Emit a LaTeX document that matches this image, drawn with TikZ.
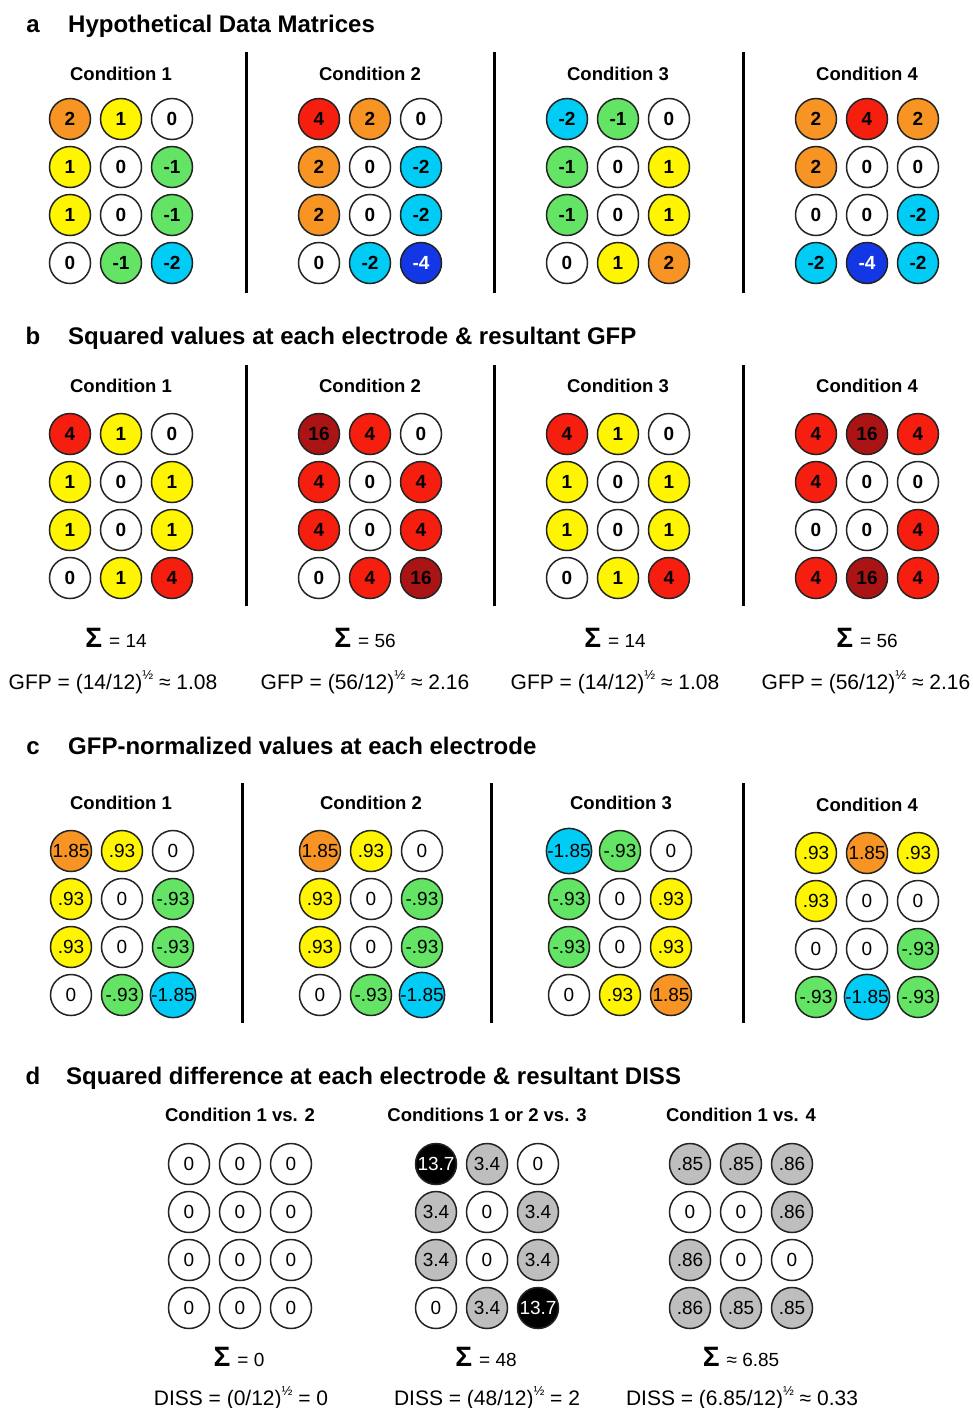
\documentclass[tikz,border=0pt]{standalone}
\usepackage{fontspec}
\setmainfont{Liberation Sans}
\definecolor{cOrC}{RGB}{247,148,36}
\definecolor{cYeC}{RGB}{255,245,0}
\definecolor{cGrC}{RGB}{100,228,100}
\definecolor{cCyC}{RGB}{0,204,245}
\definecolor{cBlC}{RGB}{20,55,230}
\definecolor{cRdC}{RGB}{245,30,15}
\definecolor{cDrC}{RGB}{170,20,20}
\definecolor{cGyC}{RGB}{190,190,190}
\definecolor{lineC}{RGB}{35,35,35}
\tikzset{
  cell/.style={circle, draw=lineC, line width=1.5pt, minimum size=41pt, inner sep=0pt, fill=white,
    font=\fontsize{19}{19}\selectfont\bfseries},
  cellr/.style={cell, font=\fontsize{19}{19}\selectfont},
  wh/.style={fill=white},
  cOr/.style={fill=cOrC},
  cYe/.style={fill=cYeC},
  cGr/.style={fill=cGrC},
  cCy/.style={fill=cCyC},
  cBl/.style={fill=cBlC, text=white},
  cRd/.style={fill=cRdC},
  cDr/.style={fill=cDrC},
  cGy/.style={fill=cGyC},
  cBk/.style={fill=black, text=white},
  sepline/.style={line width=3pt, draw=black},
  ttl/.style={anchor=base west, inner sep=0pt, font=\fontsize{24}{24}\selectfont\bfseries},
  letr/.style={anchor=base, inner sep=0pt, font=\fontsize{24}{24}\selectfont\bfseries},
  lbl/.style={anchor=base, inner sep=0pt, font=\fontsize{18.5}{18.5}\selectfont\bfseries},
  sig/.style={anchor=base, inner sep=0pt},
  eqn/.style={anchor=base, inner sep=0pt, font=\fontsize{21}{21}\selectfont},
}
\newcommand\hf{\raisebox{0.45em}{\fontsize{13}{13}\selectfont ½}}
\newcommand\sumtxt[2]{{\fontsize{28}{28}\selectfont\bfseries Σ}\hspace{7pt}{\fontsize{19}{19}\selectfont #1 #2}}
\newcommand\cgrid[5]{%
  \foreach \gS/\gT [count=\gI from 0] in {#5} {
    \pgfmathtruncatemacro\gR{floor(\gI/3)}
    \pgfmathtruncatemacro\gC{mod(\gI,3)}
    \node[#4,\gS] (#1-\gR-\gC) at ({#2+51*\gC},{#3+48*\gR}) {\gT};
  }}
\begin{document}
\begin{tikzpicture}[x=1pt,y=-1pt]
\useasboundingbox (0,0) rectangle (973,1408);

% ---------- a ----------
\node[letr] (la) at (33,32) {a};
\node[ttl] (ta) at (68,32) {Hypothetical Data Matrices};
\node[lbl] (a1l) at (121,80) {Condition 1};
\node[lbl] (a2l) at (370,80) {Condition 2};
\node[lbl] (a3l) at (618,80) {Condition 3};
\node[lbl] (a4l) at (867,80) {Condition 4};
\draw[sepline] (246,52) -- (246,293);
\draw[sepline] (494,52) -- (494,293);
\draw[sepline] (743,52) -- (743,293);
\cgrid{a1}{70}{119}{cell}{cOr/2,cYe/1,wh/0, cYe/1,wh/0,cGr/-1, cYe/1,wh/0,cGr/-1, wh/0,cGr/-1,cCy/-2}
\cgrid{a2}{319}{119}{cell}{cRd/4,cOr/2,wh/0, cOr/2,wh/0,cCy/-2, cOr/2,wh/0,cCy/-2, wh/0,cCy/-2,cBl/-4}
\cgrid{a3}{567}{119}{cell}{cCy/-2,cGr/-1,wh/0, cGr/-1,wh/0,cYe/1, cGr/-1,wh/0,cYe/1, wh/0,cYe/1,cOr/2}
\cgrid{a4}{816}{119}{cell}{cOr/2,cRd/4,cOr/2, cOr/2,wh/0,wh/0, wh/0,wh/0,cCy/-2, cCy/-2,cBl/-4,cCy/-2}

% ---------- b ----------
\node[letr] (lb) at (33,344) {b};
\node[ttl] (tb) at (68,344) {Squared values at each electrode \& resultant GFP};
\node[lbl] (b1l) at (121,392) {Condition 1};
\node[lbl] (b2l) at (370,392) {Condition 2};
\node[lbl] (b3l) at (618,392) {Condition 3};
\node[lbl] (b4l) at (867,392) {Condition 4};
\draw[sepline] (246,365) -- (246,606);
\draw[sepline] (494,365) -- (494,606);
\draw[sepline] (743,365) -- (743,606);
\cgrid{b1}{70}{434}{cell}{cRd/4,cYe/1,wh/0, cYe/1,wh/0,cYe/1, cYe/1,wh/0,cYe/1, wh/0,cYe/1,cRd/4}
\cgrid{b2}{319}{434}{cell}{cDr/16,cRd/4,wh/0, cRd/4,wh/0,cRd/4, cRd/4,wh/0,cRd/4, wh/0,cRd/4,cDr/16}
\cgrid{b3}{567}{434}{cell}{cRd/4,cYe/1,wh/0, cYe/1,wh/0,cYe/1, cYe/1,wh/0,cYe/1, wh/0,cYe/1,cRd/4}
\cgrid{b4}{816}{434}{cell}{cRd/4,cDr/16,cRd/4, cRd/4,wh/0,wh/0, wh/0,wh/0,cRd/4, cRd/4,cDr/16,cRd/4}
\node[sig] (bs1) at (116,647) {\sumtxt{=}{14}};
\node[sig] (bs2) at (365,647) {\sumtxt{=}{56}};
\node[sig] (bs3) at (615,647) {\sumtxt{=}{14}};
\node[sig] (bs4) at (867,647) {\sumtxt{=}{56}};
\node[eqn] (bg1) at (113,689) {GFP = (14/12)\hf{} ≈ 1.08};
\node[eqn] (bg2) at (365,689) {GFP = (56/12)\hf{} ≈ 2.16};
\node[eqn] (bg3) at (615,689) {GFP = (14/12)\hf{} ≈ 1.08};
\node[eqn] (bg4) at (866,689) {GFP = (56/12)\hf{} ≈ 2.16};

% ---------- c ----------
\node[letr] (lc) at (33,754) {c};
\node[ttl] (tc) at (68,754) {GFP-normalized values at each electrode};
\node[lbl] (c1l) at (121,809) {Condition 1};
\node[lbl] (c2l) at (371,809) {Condition 2};
\node[lbl] (c3l) at (621,809) {Condition 3};
\node[lbl] (c4l) at (867,811) {Condition 4};
\draw[sepline] (242,783) -- (242,1023);
\draw[sepline] (491,783) -- (491,1023);
\draw[sepline] (743,783) -- (743,1023);
\cgrid{c1}{71}{851}{cellr}{cOr/1.85,cYe/.93,wh/0, cYe/.93,wh/0,cGr/-.93, cYe/.93,wh/0,cGr/-.93, wh/0,cGr/-.93,cCy/-1.85}
\cgrid{c2}{320}{851}{cellr}{cOr/1.85,cYe/.93,wh/0, cYe/.93,wh/0,cGr/-.93, cYe/.93,wh/0,cGr/-.93, wh/0,cGr/-.93,cCy/-1.85}
\cgrid{c3}{569}{851}{cellr}{cCy/-1.85,cGr/-.93,wh/0, cGr/-.93,wh/0,cYe/.93, cGr/-.93,wh/0,cYe/.93, wh/0,cYe/.93,cOr/1.85}
\cgrid{c4}{816}{853}{cellr}{cYe/.93,cOr/1.85,cYe/.93, cYe/.93,wh/0,wh/0, wh/0,wh/0,cGr/-.93, cGr/-.93,cCy/-1.85,cGr/-.93}

% ---------- d ----------
\node[letr] (ld) at (33,1084) {d};
\node[ttl] (td) at (66,1084) {Squared difference at each electrode \& resultant DISS};
\node[lbl] (d1l) at (240,1121) {Condition 1 vs. 2};
\node[lbl] (d2l) at (487,1121) {Conditions 1 or 2 vs. 3};
\node[lbl] (d3l) at (741,1121) {Condition 1 vs. 4};
\cgrid{d1}{189}{1164}{cellr}{wh/0,wh/0,wh/0, wh/0,wh/0,wh/0, wh/0,wh/0,wh/0, wh/0,wh/0,wh/0}
\cgrid{d2}{436}{1164}{cellr}{cBk/13.7,cGy/3.4,wh/0, cGy/3.4,wh/0,cGy/3.4, cGy/3.4,wh/0,cGy/3.4, wh/0,cGy/3.4,cBk/13.7}
\cgrid{d3}{690}{1164}{cellr}{cGy/.85,cGy/.85,cGy/.86, wh/0,wh/0,cGy/.86, cGy/.86,wh/0,wh/0, cGy/.86,cGy/.85,cGy/.85}
\node[sig] (ds1) at (239,1366) {\sumtxt{=}{0}};
\node[sig] (ds2) at (486,1366) {\sumtxt{=}{48}};
\node[sig] (ds3) at (741,1366) {\sumtxt{≈}{6.85}};
\node[eqn] (dd1) at (241,1405) {DISS = (0/12)\hf{} = 0};
\node[eqn] (dd2) at (487,1405) {DISS = (48/12)\hf{} = 2};
\node[eqn] (dd3) at (742,1405) {DISS = (6.85/12)\hf{} ≈ 0.33};
\end{tikzpicture}
\end{document}
